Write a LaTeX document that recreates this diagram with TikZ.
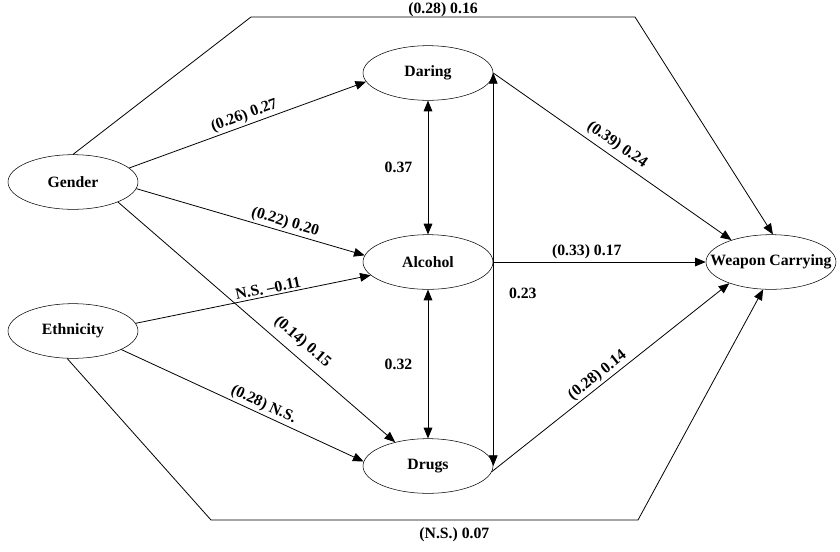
\documentclass[tikz,border=0pt]{standalone}
\usepackage{fontspec}
\setmainfont{Liberation Serif}
\usetikzlibrary{shapes.geometric,arrows.meta}

\begin{document}
\begin{tikzpicture}[x=0.75pt, y=-0.75pt, inner sep=1.5pt,
  font=\fontsize{11.8}{13}\selectfont\bfseries,
  var/.style={draw, ellipse, minimum width=97.5pt, minimum height=41pt, inner sep=0pt},
  arr/.style={-{Triangle[length=8pt,width=6.5pt]}, line width=0.6pt},
  dbl/.style={{Triangle[length=8pt,width=6.5pt]}-{Triangle[length=8pt,width=6.5pt]}, line width=0.6pt}]
  \useasboundingbox (0,0) rectangle (840,551);
  \node(gen)[var] at (73,182) {Gender};
  \node(eth)[var] at (73,331) {Ethnicity};
  \node(dar)[var] at (428,73) {Daring};
  \node(alc)[var] at (428,262) {Alcohol};
  \node(dru)[var] at (428,466) {Drugs};
  \node(wc)[var] at (771,262) {\makebox[0pt]{Weapon Carrying}};
  \coordinate(t1) at (251,17);
  \coordinate(t2) at (635,17);
  \coordinate(b1) at (211,520);
  \coordinate(b2) at (638,520);
  \draw[arr] (gen.north) -- (t1) -- (t2) node[midway, above=-1.5pt] {(0.28) 0.16} -- (wc.86);
  \draw[arr] (gen.14) -- (dar.188) node[midway, above, sloped] {(0.26) 0.27};
  \draw[arr] (gen.-6) -- (alc.174) node[pos=0.64, above, sloped] {(0.22) 0.20};
  \draw[arr] (gen.-24) -- (dru.144) node[pos=0.63, above=4pt, sloped] {(0.14) 0.15};
  \draw[arr] (eth.7) -- (alc.193) node[pos=0.57, above, sloped] {N.S. –0.11};
  \draw[arr] (eth.-21) -- (dru.176) node[pos=0.57, above, sloped] {(0.28) N.S.};
  \draw[arr] (eth.-102) -- (b1) -- (b2) node[pos=0.57, below=4pt] {(N.S.) 0.07} -- (wc.-106);
  \draw[arr] (dar.east) -- (wc.151) node[pos=0.49, above=2pt, sloped] {(0.39) 0.24};
  \draw[arr] (alc.east) -- (wc.west) node[pos=0.44, above=0.5pt] {(0.33) 0.17};
  \draw[arr] (dru.-5) -- (wc.-153) node[pos=0.47, above, sloped] {(0.28) 0.14};
  \draw[dbl] (dar.south) -- (alc.north) node[midway, left=10pt] {0.37};
  \draw[dbl] (alc.south) -- (dru.north) node[midway, left=10pt] {0.32};
  \draw[dbl] (dar.east) -- (dru.east) node[pos=0.56, right=10pt] {0.23};
\end{tikzpicture}
\end{document}
